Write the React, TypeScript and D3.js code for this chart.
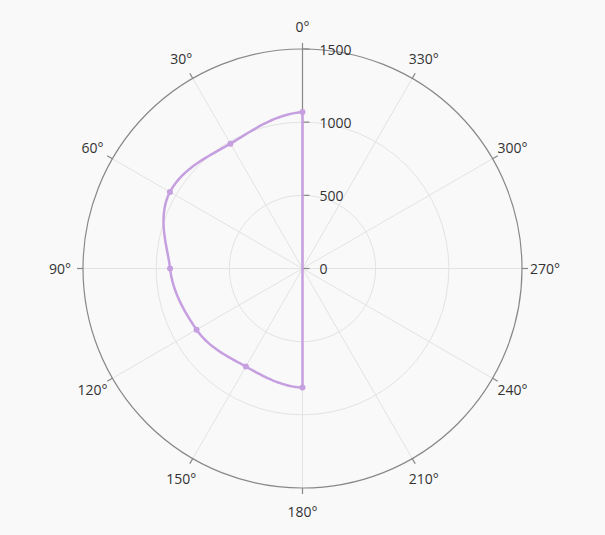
import React from "react";
import * as d3 from "d3";

const angles = [0, 30, 60, 90, 120, 150, 180];
const values = [1069, 985, 1046, 905, 836, 774, 814];
const angleTicks = [0, 30, 60, 90, 120, 150, 180, 210, 240, 270, 300, 330];
const radialTicks = [0, 500, 1000, 1500];

const W = 605;
const H = 535;
const cx = 302.5;
const cy = 268.5;
const R = 219.5;
const lineColor = "#c69fe0";
const font = "'Open Sans', 'Noto Sans', sans-serif";

// smooth in polar space: cardinal spline of radius against angle
function smoothPolar(angs: number[], vals: number[], steps: number, k: number) {
  const out: [number, number][] = [];
  const n = vals.length;
  const tan = vals.map((_, i) => {
    if (i === 0) return (vals[1] - vals[0]) * k;
    if (i === n - 1) return (vals[n - 1] - vals[n - 2]) * k;
    return ((vals[i + 1] - vals[i - 1]) / 2) * k;
  });
  for (let i = 0; i < n - 1; i++) {
    for (let s = 0; s < steps; s++) {
      const t = s / steps;
      const h00 = 2 * t ** 3 - 3 * t ** 2 + 1;
      const h10 = t ** 3 - 2 * t ** 2 + t;
      const h01 = -2 * t ** 3 + 3 * t ** 2;
      const h11 = t ** 3 - t ** 2;
      const v = h00 * vals[i] + h10 * tan[i] + h01 * vals[i + 1] + h11 * tan[i + 1];
      out.push([angs[i] + t * (angs[i + 1] - angs[i]), v]);
    }
  }
  out.push([angs[n - 1], vals[n - 1]]);
  return out;
}

export default function App() {
  const r = d3.scaleLinear().domain([0, 1500]).range([0, R]);
  const a = d3.scaleLinear().domain([0, 360]).range([0, -2 * Math.PI]);
  const pt = (deg: number, rad: number) => [
    rad * Math.sin(a(deg)),
    -rad * Math.cos(a(deg)),
  ];
  const line = d3
    .lineRadial<[number, number]>()
    .angle((d) => a(d[0]))
    .radius((d) => r(d[1]))
    .curve(d3.curveLinear);
  const path = (line(smoothPolar(angles, values, 30, 0.5)) || "") + "Z";

  return (
    <svg
      width={W}
      height={H}
      style={{ position: "fixed", left: 0, top: 0, background: "#f9f9f9" }}
      fontFamily={font}
    >
      <rect width={W} height={H} fill="#f9f9f9" />
      <g transform={`translate(${cx},${cy})`}>
        {radialTicks.slice(1, -1).map((t) => (
          <circle key={t} r={r(t)} fill="none" stroke="#e3e3e3" strokeWidth={1} />
        ))}
        {angleTicks.map((t) => {
          const [x, y] = pt(t, R);
          return <line key={t} x1={0} y1={0} x2={x} y2={y} stroke="#e3e3e3" strokeWidth={1} />;
        })}
        <circle r={R} fill="none" stroke="#888" strokeWidth={1.2} />
        {angleTicks.map((t) => {
          const [x1, y1] = pt(t, R);
          const [x2, y2] = pt(t, R + 6);
          const [lx, ly] = pt(t, R + 23);
          return (
            <g key={"t" + t}>
              <line x1={x1} y1={y1} x2={x2} y2={y2} stroke="#888" strokeWidth={1.2} />
              <text
                x={lx}
                y={ly}
                textAnchor="middle"
                dominantBaseline="central"
                fontSize={14}
                fill="#333"
              >
                {t}°
              </text>
            </g>
          );
        })}
        <line x1={0} y1={0} x2={0} y2={-R} stroke="#888" strokeWidth={1.2} />
        {radialTicks.map((t) => (
          <g key={"r" + t}>
            <line x1={0} y1={-r(t)} x2={7} y2={-r(t)} stroke="#888" strokeWidth={1.2} />
            <text
              x={17}
              y={-r(t)}
              dominantBaseline="central"
              fontSize={14}
              fill="#333"
            >
              {t}
            </text>
          </g>
        ))}
        <path d={path} fill="none" stroke={lineColor} strokeWidth={2.5} strokeLinejoin="round" />
        {values.map((v, i) => {
          const [x, y] = pt(angles[i], r(v));
          return <circle key={"p" + i} cx={x} cy={y} r={3} fill={lineColor} />;
        })}
      </g>
    </svg>
  );
}
